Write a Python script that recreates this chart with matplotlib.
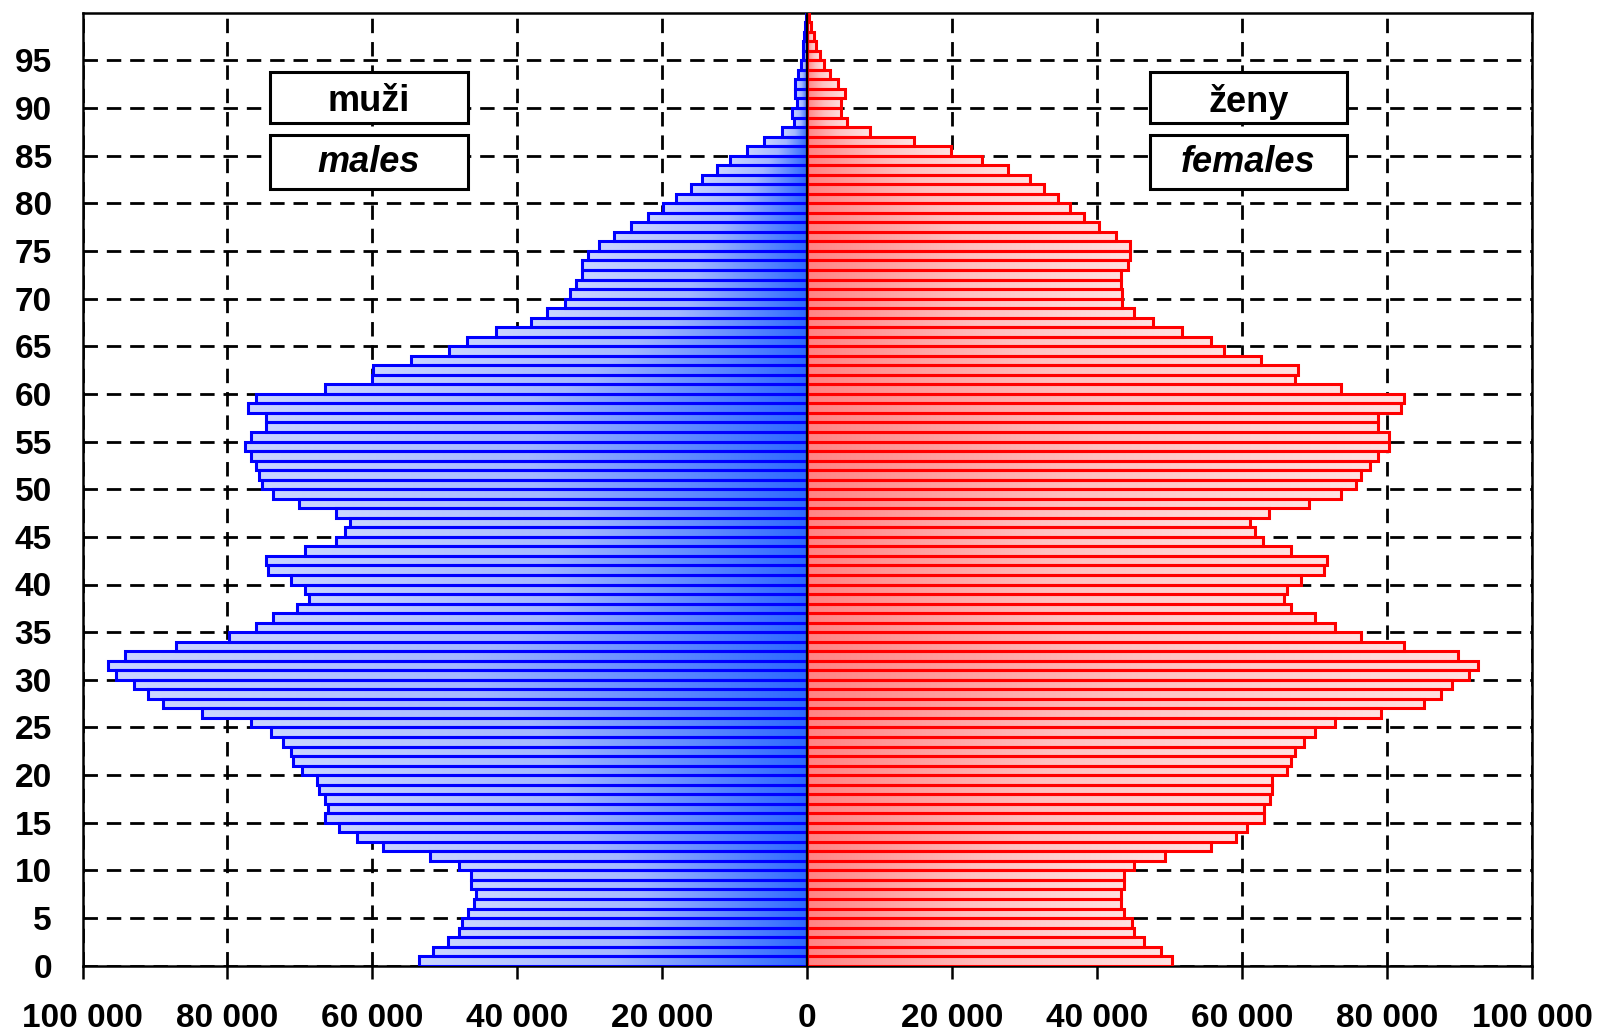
import numpy as np
import matplotlib
matplotlib.use('Agg')
import matplotlib.pyplot as plt
from matplotlib.patches import Rectangle
from matplotlib.colors import LinearSegmentedColormap
from matplotlib.ticker import FuncFormatter

plt.rcParams['font.family'] = ['Liberation Sans', 'DejaVu Sans']

# ---------------- data ----------------
ages = list(range(100))
males = [53550, 51600, 49500, 48000, 47600, 46800, 46000, 45700, 46400, 46400,
         48000, 52050, 58550, 62150, 64550, 66500, 66150, 66500, 67300, 67700,
         69750, 70900, 71250, 72400, 74000, 76750, 83500, 88950, 90900, 92900,
         95400, 96450, 94100, 87100, 79850, 76000, 73700, 70450, 68800, 69300,
         71250, 74350, 74700, 69300, 65000, 63750, 63100, 65000, 70100, 73650,
         75200, 75650, 76000, 76750, 77550, 76750, 74650, 74650, 77200, 76000,
         66500, 60100, 59900, 54700, 49450, 46900, 43000, 38100, 35900, 33400,
         32700, 31850, 31050, 31050, 30250, 28700, 26700, 24300, 22000, 19900,
         18050, 16100, 14500, 12500, 10700, 8300, 6000, 3550, 1800, 2100,
         1400, 1700, 1700, 1300, 880, 650, 550, 450, 350, 150]
females = [50350, 48850, 46450, 45150, 44800, 43750, 43250, 43250, 43750, 43750,
           45150, 49300, 55700, 59100, 60650, 63000, 63000, 63800, 64100, 64100,
           66200, 66800, 67250, 68500, 70000, 72800, 79100, 85100, 87400, 88900,
           91300, 92550, 89800, 82300, 76400, 72800, 70000, 66800, 65800, 66200,
           68100, 71300, 71700, 66800, 62900, 61800, 61100, 63700, 69250, 73700,
           75650, 76400, 77600, 78700, 80300, 80300, 78700, 78700, 81950, 82300,
           73700, 67250, 67750, 62650, 57450, 55700, 51700, 47650, 45150, 43400,
           43400, 43250, 43250, 44200, 44600, 44600, 42550, 40200, 38200, 36300,
           34600, 32700, 30750, 27700, 24100, 19800, 14700, 8650, 5550, 4700,
           4700, 5150, 4300, 3200, 2300, 1700, 1250, 900, 550, 200]
x_ticks = [-100000, -80000, -60000, -40000, -20000, 0, 20000, 40000, 60000, 80000, 100000]
y_ticks = list(range(0, 100, 5))
label_cz = ['muži', 'ženy']
label_en = ['males', 'females']

# ---------------- figure ----------------
W, H = 1597, 1034
fig = plt.figure(figsize=(W / 100, H / 100), dpi=100)
ax = fig.add_axes([82.5 / W, 1 - 965.7 / H, (1532 - 82.5) / W, (965.7 - 12.7) / H])

male_cmap = LinearSegmentedColormap.from_list('m', ['#cad5ff', '#a4b8ff', '#2c68ff'])
female_cmap = LinearSegmentedColormap.from_list('f', ['#ff8484', '#ffc0c0', '#ffe2e2'])
grad = np.linspace(0, 1, 256).reshape(1, -1)

for a, m, f in zip(ages, males, females):
    ax.imshow(grad, extent=(-m, 0, a, a + 1), cmap=male_cmap, aspect='auto',
              interpolation='bilinear', zorder=2)
    ax.imshow(grad, extent=(0, f, a, a + 1), cmap=female_cmap, aspect='auto',
              interpolation='bilinear', zorder=2)

ax.barh(ages, [-v for v in males], height=1, align='edge', facecolor='none',
        edgecolor='#0000ff', linewidth=2.2, zorder=3)
ax.barh(ages, females, height=1, align='edge', facecolor='none',
        edgecolor='#ff0000', linewidth=2.2, zorder=3)
ax.axvline(0, color='black', lw=1.6, zorder=4)

ax.set_xlim(-100000, 100000)
ax.set_ylim(0, 100)
ax.set_xticks(x_ticks)
ax.set_yticks(y_ticks)
ax.xaxis.set_major_formatter(FuncFormatter(lambda v, p: f"{abs(int(round(v))):,}".replace(',', ' ')))
ax.set_axisbelow(True)
ax.grid(True, color='black', linestyle=(0, (5.2, 3.2)), linewidth=2.0)
ax.tick_params(axis='x', direction='out', length=9.5, width=1.8, pad=17, labelsize=24)
ax.tick_params(axis='y', length=0, pad=22, labelsize=24)
for lab in ax.get_xticklabels() + ax.get_yticklabels():
    lab.set_fontweight('bold')
for s in ax.spines.values():
    s.set_linewidth(1.8)
    s.set_color('black')

# ---------------- label boxes ----------------
def box(x0, y0, x1, y1, text, style, dy=0):
    fig.add_artist(Rectangle((x0 / W, 1 - y1 / H), (x1 - x0) / W, (y1 - y0) / H,
                             transform=fig.transFigure, facecolor='white',
                             edgecolor='black', linewidth=2.2, zorder=5))
    fig.text((x0 + x1) / 2 / W, 1 - ((y0 + y1) / 2 + dy) / H, text, ha='center', va='center',
             fontsize=26, style=style, fontweight='bold', zorder=6)

box(270, 72, 468, 123, label_cz[0], 'normal', dy=4)
box(270, 135, 468, 189, label_en[0], 'italic', dy=1)
box(1150, 72, 1347, 123, label_cz[1], 'normal', dy=4)
box(1150, 135, 1347, 189, label_en[1], 'italic', dy=1)

fig.savefig('out.png', dpi=100)
